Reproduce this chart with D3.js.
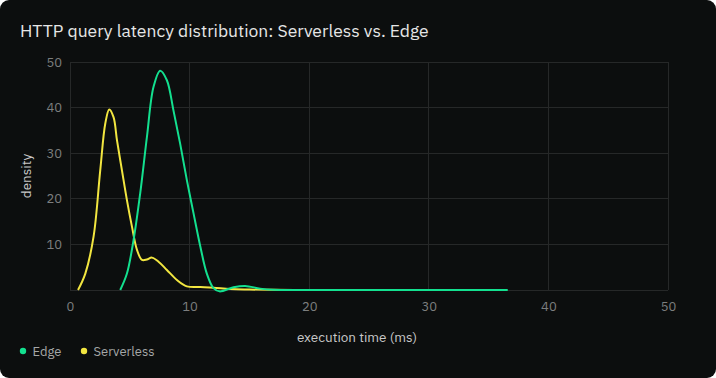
<!DOCTYPE html>
<html><head><meta charset="utf-8">
<script src="https://cdn.jsdelivr.net/npm/d3@7"></script>
<style>
html,body{margin:0;padding:0;background:#ffffff;}
svg{display:block;}
</style></head>
<body>
<svg id="chart" width="716" height="378"></svg>
<script>
const title = "HTTP query latency distribution: Serverless vs. Edge";
const xTicks = [0, 10, 20, 30, 40, 50];
const yTicks = [10, 20, 30, 40, 50];
const seriesNames = ["Edge", "Serverless"];
const seriesColors = ["#13e08f", "#f2e640"];

const serverlessX = [0.67, 1.28, 1.97, 2.53, 2.95, 3.28, 3.64, 3.93, 4.34, 4.76, 5.18, 5.6, 6.02, 6.43, 6.85, 7.4, 8.1, 8.94, 9.77, 10.9, 12.0, 13.4, 15.0, 17.0, 20.0, 22.6];
const serverlessY = [0, 3.6, 11.7, 26.3, 36.5, 39.6, 37.9, 32.8, 26.3, 19.7, 13.9, 8.8, 6.6, 6.7, 7.1, 6.2, 4.4, 2.2, 0.8, 0.65, 0.5, 0.2, 0.1, 0.03, 0.01, 0];

const edgeX = [4.2, 4.76, 5.31, 5.87, 6.43, 6.98, 7.54, 8.1, 8.65, 9.21, 9.77, 10.33, 10.9, 11.44, 12.0, 12.5, 13.67, 14.64, 15.9, 17.0, 20.0, 25.0, 30.0, 36.6];
const edgeY = [0, 3.6, 10.9, 21.2, 33.5, 44.5, 48.1, 46.0, 39.4, 32.1, 24.1, 16.8, 9.5, 3.6, 0.4, -0.3, 0.6, 0.9, 0.3, 0.05, 0, 0, 0, 0];

const W = 716, H = 378;
const m = {left: 70, right: 48, top: 62, bottom: 88};
const svg = d3.select("#chart");

svg.append("rect").attr("x", 0).attr("y", 0).attr("width", W).attr("height", H)
  .attr("rx", 9).attr("fill", "#0c0e0e");

const x = d3.scaleLinear().domain([0, 50]).range([m.left, W - m.right]);
const y = d3.scaleLinear().domain([0, 50]).range([H - m.bottom, m.top]);

const font = "'IBM Plex Sans', Roboto, 'Noto Sans', sans-serif";

svg.append("text").attr("x", 20).attr("y", 37).text(title)
  .attr("fill", "#e6e6e6").attr("font-family", font).attr("font-size", 17.5);

// grid
const g = svg.append("g");
g.selectAll(".hg").data([0].concat(yTicks)).join("line")
  .attr("x1", x(0)).attr("x2", x(50)).attr("y1", d => y(d)).attr("y2", d => y(d))
  .attr("stroke", "#262828").attr("stroke-width", 1).attr("shape-rendering", "crispEdges");
g.selectAll(".vg").data(xTicks).join("line")
  .attr("x1", d => x(d)).attr("x2", d => x(d)).attr("y1", y(0)).attr("y2", y(50))
  .attr("stroke", "#262828").attr("stroke-width", 1).attr("shape-rendering", "crispEdges");

// axes
const xAxis = d3.axisBottom(x).tickValues(xTicks).tickSize(0).tickPadding(12);
const xa = svg.append("g").attr("transform", `translate(0,${y(0)})`).call(xAxis);
const yAxis = d3.axisLeft(y).tickValues(yTicks).tickSize(0).tickPadding(8);
const ya = svg.append("g").attr("transform", `translate(${x(0)},0)`).call(yAxis);
[xa, ya].forEach(a => {
  a.select(".domain").remove();
  a.selectAll("text").attr("fill", "#7c7e7e").attr("font-family", font).attr("font-size", 13);
});

svg.append("text").attr("x", (x(0) + x(50)) / 2 - 12).attr("y", 342).attr("text-anchor", "middle")
  .text("execution time (ms)").attr("fill", "#c8c8c8").attr("font-family", font).attr("font-size", 13.5);
svg.append("text").attr("transform", `translate(31,${(y(0) + y(50)) / 2}) rotate(-90)`)
  .attr("text-anchor", "middle").text("density").attr("fill", "#c8c8c8")
  .attr("font-family", font).attr("font-size", 13.5);

// lines
const line = d3.line().x(d => x(d[0])).y(d => y(d[1])).curve(d3.curveCatmullRom.alpha(0.5));
const edgeData = edgeX.map((v, i) => [v, edgeY[i]]);
const serverlessData = serverlessX.map((v, i) => [v, serverlessY[i]]);

svg.append("path").datum(serverlessData).attr("d", line).attr("fill", "none")
  .attr("stroke", seriesColors[1]).attr("stroke-width", 2);
svg.append("path").datum(edgeData).attr("d", line).attr("fill", "none")
  .attr("stroke", seriesColors[0]).attr("stroke-width", 2);

// legend
const legX = [23, 84];
seriesNames.forEach((n, i) => {
  svg.append("circle").attr("cx", legX[i]).attr("cy", 351).attr("r", 3.2).attr("fill", seriesColors[i]);
  svg.append("text").attr("x", legX[i] + 9.5).attr("y", 356).text(n)
    .attr("fill", "#a5a7a7").attr("font-family", font).attr("font-size", 13);
});
</script>
</body></html>
